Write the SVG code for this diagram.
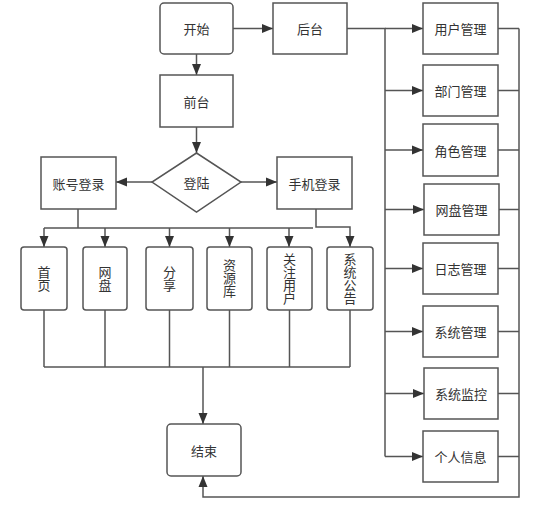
<svg xmlns="http://www.w3.org/2000/svg" width="542" height="524" viewBox="0 0 542 524">
<style>
.box{fill:#fff;stroke:#555;stroke-width:1.5}
.t{font-family:"Noto Sans CJK SC","Liberation Sans",sans-serif;font-size:13px;fill:#333;text-anchor:middle;dominant-baseline:central}
.v{font-family:"Noto Sans CJK SC","Liberation Sans",sans-serif;font-size:13px;fill:#333;text-anchor:middle;writing-mode:vertical-rl}
.c{fill:none;stroke:#555;stroke-width:1.5}
.a{marker-end:url(#ah)}
</style>
<defs>
<marker id="ah" markerUnits="userSpaceOnUse" markerWidth="12" markerHeight="10" viewBox="0 0 12 10" refX="11" refY="5" orient="auto">
<path d="M0,0.5 L11,5 L0,9.5 Z" fill="#333"/>
</marker>
</defs>
<rect width="542" height="524" fill="#fff"/>
<g id="connectors">
<path class="c a" d="M233,28.5 H273"/>
<path class="c a" d="M196.5,54 V75"/>
<path class="c a" d="M196.5,127 V153"/>
<path class="c a" d="M152,182 H116"/>
<path class="c a" d="M241,182 H277"/>
<path class="c" d="M78,209 V228 M44,228 H313"/>
<path class="c a" d="M44,228 V247"/>
<path class="c a" d="M105,228 V247"/>
<path class="c a" d="M169.5,228 V247"/>
<path class="c a" d="M229.5,228 V247"/>
<path class="c a" d="M289,228 V247"/>
<path class="c a" d="M316,209 V227 H350 V247"/>
<path class="c" d="M44,310 V367 M105,310 V367 M169.5,310 V367 M229.5,310 V367 M289.5,310 V367 M350,310 V367 M44,367 H350"/>
<path class="c a" d="M203,367 V424"/>
<path class="c" d="M347,28.5 H385 V456.5"/>
<path class="c a" d="M385,28.5 H423"/>
<path class="c a" d="M385,90.5 H423"/>
<path class="c a" d="M385,150 H423"/>
<path class="c a" d="M385,209.5 H424"/>
<path class="c a" d="M385,268.5 H423"/>
<path class="c a" d="M385,331.5 H423"/>
<path class="c a" d="M385,393.5 H424"/>
<path class="c a" d="M385,456.5 H423"/>
<path class="c" d="M498,28.5 H519 M498,90.5 H519 M498,150 H519 M499,209.5 H519 M498,268.5 H519 M498,331.5 H519 M498,393.5 H519 M498,456.5 H519"/>
<path class="c a" d="M519,28.5 V497 H203 V476"/>
</g>
<g id="start"><rect class="box" x="160" y="3" width="73" height="51" rx="4"/><text class="t" x="196.5" y="28.5">开始</text></g>
<g id="backend"><rect class="box" x="273" y="3" width="74" height="51"/><text class="t" x="310" y="28.5">后台</text></g>
<g id="frontend"><rect class="box" x="160" y="75" width="73" height="52"/><text class="t" x="196.5" y="101">前台</text></g>
<g id="login"><polygon class="box" points="196.5,153 241,182 196.5,212 152,182"/><text class="t" x="196.5" y="182">登陆</text></g>
<g id="account-login"><rect class="box" x="41" y="157" width="75" height="52"/><text class="t" x="78.5" y="183">账号登录</text></g>
<g id="phone-login"><rect class="box" x="277" y="157" width="75" height="52"/><text class="t" x="314.5" y="183">手机登录</text></g>
<g id="home"><rect class="box" x="21" y="247" width="46" height="63" rx="3"/><text class="v" x="44" y="278.5">首页</text></g>
<g id="netdisk"><rect class="box" x="83" y="247" width="44" height="63" rx="3"/><text class="v" x="105" y="278.5">网盘</text></g>
<g id="share"><rect class="box" x="146" y="247" width="47" height="63" rx="3"/><text class="v" x="169.5" y="278.5">分享</text></g>
<g id="resources"><rect class="box" x="207" y="247" width="45" height="63" rx="3"/><text class="v" x="229.5" y="278.5">资源库</text></g>
<g id="follow"><rect class="box" x="267" y="247" width="45" height="63" rx="3"/><text class="v" x="289.5" y="278.5">关注用户</text></g>
<g id="notice"><rect class="box" x="327" y="247" width="46" height="63" rx="3"/><text class="v" x="350" y="278.5">系统公告</text></g>
<g id="end"><rect class="box" x="167" y="424" width="74" height="52" rx="4"/><text class="t" x="204" y="450">结束</text></g>
<g id="user-mgmt"><rect class="box" x="423" y="3" width="75" height="51"/><text class="t" x="460.5" y="28.5">用户管理</text></g>
<g id="dept-mgmt"><rect class="box" x="423" y="65" width="75" height="51"/><text class="t" x="460.5" y="90.5">部门管理</text></g>
<g id="role-mgmt"><rect class="box" x="423" y="124" width="75" height="52"/><text class="t" x="460.5" y="150">角色管理</text></g>
<g id="disk-mgmt"><rect class="box" x="424" y="184" width="75" height="51"/><text class="t" x="461.5" y="209.5">网盘管理</text></g>
<g id="log-mgmt"><rect class="box" x="423" y="243" width="75" height="51"/><text class="t" x="460.5" y="268.5">日志管理</text></g>
<g id="sys-mgmt"><rect class="box" x="423" y="306" width="75" height="51"/><text class="t" x="460.5" y="331.5">系统管理</text></g>
<g id="sys-monitor"><rect class="box" x="424" y="368" width="74" height="51"/><text class="t" x="461" y="393.5">系统监控</text></g>
<g id="profile"><rect class="box" x="423" y="431" width="75" height="51"/><text class="t" x="460.5" y="456.5">个人信息</text></g>
</svg>
